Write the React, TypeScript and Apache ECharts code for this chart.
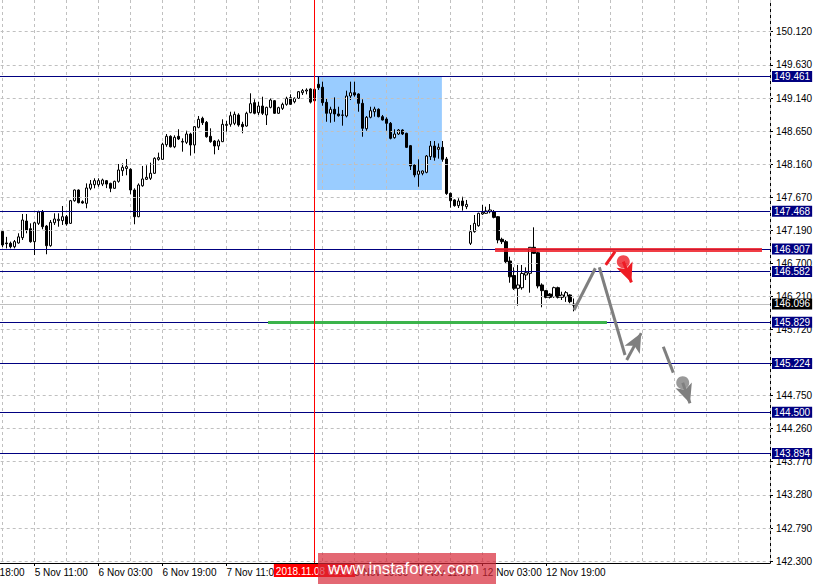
import React, { useEffect, useRef } from "react";
import * as echarts from "echarts";

// ---- Candles (H1 bars, index 0 = first visible bar) ----
const OPEN = [
  147.17, 147.0, 146.995, 146.945, 147.0, 147.078, 147.324, 147.211, 147.019, 147.29,
  147.457, 147.25, 146.96, 147.299, 147.33, 147.33, 147.388, 147.29, 147.624, 147.782,
  147.61, 147.585, 147.807, 147.86, 147.86, 147.87, 147.92, 147.88, 147.807, 147.91,
  148.067, 148.1, 148.088, 147.782, 147.388, 147.845, 147.94, 147.955, 148.029, 148.235,
  148.235, 148.451, 148.575, 148.42, 148.575, 148.49, 148.486, 148.609, 148.447, 148.708,
  148.841, 148.782, 148.575, 148.506, 148.432, 148.496, 148.737, 148.752, 148.767, 148.89,
  148.752, 148.727, 148.924, 149.072, 148.924, 149.022, 148.89, 149.003, 149.101, 148.915,
  148.988, 149.047, 149.145, 149.086, 149.136, 149.219, 149.244, 149.274, 149.1, 149.343,
  149.3, 149.077, 148.915, 148.974, 148.905, 148.885, 148.875, 149.17, 149.219, 149.2,
  149.062, 148.687, 148.856, 148.938, 148.974, 148.865, 148.83, 148.767, 148.555, 148.609,
  148.668, 148.619, 148.437, 148.151, 148.014, 148.029, 148.043, 148.275, 148.432, 148.383,
  148.412, 148.24, 147.733, 147.635, 147.551, 147.62, 147.536, 146.995, 147.167, 147.255,
  147.428, 147.438, 147.462, 147.462, 147.388, 147.054, 147.019, 146.734, 146.52, 146.33,
  146.339, 146.527, 146.552, 146.936, 146.856, 146.38, 146.296, 146.246, 146.207, 146.34,
  146.197, 146.207, 146.232, 146.08,
];
const CLOSE = [
  146.97, 146.99, 146.945, 147.02, 147.09, 147.339, 147.192, 147.019, 147.299, 147.457,
  147.24, 146.96, 147.305, 147.354, 147.35, 147.388, 147.28, 147.624, 147.782, 147.595,
  147.59, 147.812, 147.87, 147.92, 147.92, 147.93, 147.87, 147.807, 147.91, 148.078,
  148.117, 148.127, 147.782, 147.388, 147.856, 147.945, 147.97, 148.029, 148.25, 148.26,
  148.457, 148.575, 148.42, 148.56, 148.535, 148.5, 148.609, 148.447, 148.717, 148.826,
  148.776, 148.569, 148.496, 148.432, 148.506, 148.752, 148.752, 148.879, 148.9, 148.742,
  148.717, 148.915, 149.057, 148.915, 149.022, 148.915, 149.003, 149.111, 148.915, 148.998,
  149.047, 149.136, 149.047, 149.136, 149.234, 149.249, 149.259, 149.08, 149.27, 149.293,
  149.072, 148.915, 148.974, 148.905, 148.879, 148.89, 149.17, 149.219, 149.185, 149.062,
  148.693, 148.856, 148.953, 148.978, 148.865, 148.816, 148.767, 148.545, 148.609, 148.668,
  148.609, 148.412, 148.137, 148.004, 148.063, 148.063, 148.284, 148.432, 148.265, 148.412,
  148.235, 147.73, 147.624, 147.551, 147.62, 147.551, 147.57, 147.167, 147.29, 147.438,
  147.452, 147.472, 147.487, 147.378, 147.044, 147.019, 146.724, 146.5, 146.33, 146.38,
  146.55, 146.561, 146.936, 146.847, 146.365, 146.296, 146.197, 146.197, 146.34, 146.197,
  146.232, 146.266, 146.133, 146.096,
];
const LOW = [
  146.94, 146.92, 146.92, 146.92, 146.99, 147.044, 147.143, 147.004, 146.822, 147.266,
  147.202, 146.833, 146.945, 147.266, 147.24, 147.266, 147.255, 147.28, 147.61, 147.585,
  147.58, 147.512, 147.78, 147.807, 147.83, 147.84, 147.81, 147.75, 147.8, 147.89,
  147.99, 148.0, 147.72, 147.276, 147.38, 147.83, 147.93, 147.93, 148.02, 148.215,
  148.225, 148.42, 148.41, 148.4, 148.52, 148.348, 148.461, 148.29, 148.324, 148.693,
  148.742, 148.555, 148.48, 148.309, 148.373, 148.49, 148.643, 148.717, 148.74, 148.717,
  148.62, 148.717, 148.915, 148.9, 148.89, 148.89, 148.742, 148.988, 148.905, 148.905,
  148.964, 149.027, 149.037, 149.062, 149.126, 149.185, 149.195, 149.06, 149.09, 149.26,
  149.027, 148.79, 148.776, 148.79, 148.865, 148.732, 148.855, 149.111, 149.16, 148.938,
  148.569, 148.658, 148.841, 148.865, 148.855, 148.81, 148.658, 148.53, 148.54, 148.594,
  148.594, 148.402, 148.078, 147.97, 147.83, 148.0, 148.029, 148.225, 148.215, 148.245,
  148.2, 147.71, 147.521, 147.536, 147.516, 147.477, 147.5, 146.97, 147.152, 147.24,
  147.413, 147.428, 147.438, 147.364, 146.995, 146.984, 146.7, 146.413, 146.306, 146.074,
  146.31, 146.453, 146.266, 146.837, 146.33, 146.05, 146.183, 146.18, 146.19, 146.18,
  146.158, 146.13, 146.11, 145.99,
];
const HIGH = [
  147.18, 147.09, 147.02, 147.044, 147.143, 147.428, 147.428, 147.29, 147.314, 147.477,
  147.487, 147.266, 147.339, 147.438, 147.438, 147.546, 147.413, 147.635, 147.79, 147.79,
  147.63, 147.88, 147.93, 147.955, 147.955, 147.95, 147.93, 147.89, 147.92, 148.166,
  148.176, 148.24, 148.103, 147.807, 147.88, 148.137, 148.147, 148.186, 148.265, 148.334,
  148.48, 148.609, 148.59, 148.59, 148.679, 148.545, 148.658, 148.628, 148.727, 148.875,
  148.865, 148.801, 148.693, 148.52, 148.53, 148.826, 148.801, 148.938, 148.94, 148.915,
  148.79, 148.938, 149.21, 149.121, 149.086, 149.16, 149.012, 149.136, 149.111, 149.012,
  149.072, 149.16, 149.195, 149.15, 149.244, 149.274, 149.284, 149.284, 149.3, 149.46,
  149.382, 149.136, 149.012, 149.15, 149.012, 148.964, 149.249, 149.382, 149.382, 149.21,
  149.121, 148.875, 149.012, 149.012, 148.988, 148.89, 148.856, 148.786, 148.679, 148.683,
  148.679, 148.628, 148.447, 148.166, 148.235, 148.07, 148.299, 148.506, 148.506, 148.47,
  148.506, 148.27, 147.743, 147.645, 147.66, 147.683, 147.635, 147.266, 147.413, 147.447,
  147.561, 147.536, 147.575, 147.487, 147.398, 147.078, 147.044, 146.797, 146.64, 146.675,
  146.675, 146.64, 146.94, 147.231, 146.871, 146.404, 146.306, 146.26, 146.355, 146.355,
  146.28, 146.29, 146.242, 146.18,
];

// ---- Axes ----
const LEAD_BARS = 8; // time slots shown left of the first bar
const SLOT_COUNT = 201; // time slots on the x axis
const X_TICK_LABELS = [
  "2 Nov 18:00", "5 Nov 11:00", "6 Nov 03:00", "6 Nov 19:00", "7 Nov 11:00",
  "8 Nov 03:00", "8 Nov 19:00", "9 Nov 11:00", "12 Nov 03:00", "12 Nov 19:00",
];
const Y_TICKS = [
  150.12, 149.63, 149.14, 148.65, 148.16, 147.67, 147.19, 146.7, 146.21, 145.72,
  145.23, 144.75, 144.26, 143.77, 143.28, 142.79, 142.3,
];
const Y_MIN = 142.274;
const Y_MAX = 150.588;

// ---- Levels and drawings ----
const LEVELS = [149.461, 147.468, 146.907, 146.582, 145.829, 145.224, 144.5, 143.894];
const CURRENT_PRICE = 146.096;
const MARKER_BAR = 78;
const MARKER_TEXT = "2018.11.08 09:00";
const ZONE_BARS = [78.7, 109.9];
const ZONE_PRICES = [149.461, 147.782];
const RESIST_BARS = [123.2, 190.0];
const RESIST_PRICE = 146.907;
const SUPPORT_BARS = [66.4, 151.2];
const SUPPORT_PRICE = 145.829;
const GRAY_SEGMENTS = [
  [[142.96, 146.01], [148.3, 146.626]],
  [[149.29, 146.641], [155.72, 145.346]],
  [[165.3, 145.468], [167.8, 145.085]],
];
const GRAY_ARROWS = [
  [[156.14, 145.272], [159.78, 145.669]],
  [[170.16, 144.937], [171.98, 144.633]],
];
const GRAY_DOTS = [[170.16, 144.937]];
const RED_SEGMENTS = [[[150.89, 146.675], [153.22, 146.871]]];
const RED_ARROWS = [[[155.29, 146.724], [157.32, 146.418]]];
const RED_DOTS = [[155.29, 146.724]];

const FONT = "Liberation Sans";
const GRAY = "#7f7f7f";
const RED = "#ee1c24";
const NAVY = "#000080";

export default function App() {
  const ref = useRef<HTMLDivElement>(null);

  useEffect(() => {
    if (!ref.current) return;
    const chart = echarts.init(ref.current, null, { renderer: "svg" });

    const slots = Array.from({ length: SLOT_COUNT }, (_, i) => String(i));
    const candles = OPEN.map((o, k) => [k + LEAD_BARS, o, CLOSE[k], LOW[k], HIGH[k]]);

    const seg = (pair: number[][], color: string, arrow: boolean) => [
      { coord: pair[0], symbol: "none" },
      {
        coord: pair[1],
        symbol: arrow ? "arrow" : "none",
        symbolSize: [13, 19],
        lineStyle: { color, width: 3, type: "solid" },
        itemStyle: { color },
      },
    ];

    const levelLine = (v: number, bg: string, lineColor: string) => ({
      yAxis: v,
      lineStyle: { color: lineColor, width: 1, type: "solid" },
      label: {
        show: true,
        position: "end",
        formatter: v.toFixed(3),
        backgroundColor: bg,
        color: "#fff",
        fontFamily: FONT,
        fontSize: 10,
        padding: [1, 2, 0, 2],
        distance: 2,
      },
    });

    chart.setOption({
      animation: false,
      backgroundColor: "#ffffff",
      grid: {
        left: -29.3,
        right: 43,
        top: 0,
        bottom: 21,
        containLabel: false,
        outerBoundsMode: "none",
      },
      xAxis: [
        {
          type: "category",
          data: slots,
          boundaryGap: false,
          z: 2,
          axisLine: { lineStyle: { color: "#000", width: 1 } },
          axisTick: {
            length: 3,
            lineStyle: { color: "#000" },
            interval: (i: number) => i % 16 === 0 && i / 16 < X_TICK_LABELS.length,
          },
          axisLabel: {
            interval: (i: number) => i % 16 === 0 && i / 16 < X_TICK_LABELS.length,
            formatter: (_v: string, i: number) => X_TICK_LABELS[i / 16] ?? "",
            align: "left",
            margin: 4,
            color: "#000",
            fontFamily: FONT,
            fontSize: 10,
          },
          splitLine: {
            show: true,
            interval: (i: number) => i % 8 === 0,
            lineStyle: { color: "#c0c0c0", type: [3, 3], width: 1 },
          },
        },
        {
          type: "value",
          min: -LEAD_BARS,
          max: SLOT_COUNT - 1 - LEAD_BARS,
          show: false,
          splitLine: { show: false },
        },
      ],
      yAxis: {
        type: "value",
        position: "right",
        min: Y_MIN,
        max: Y_MAX,
        scale: true,
        axisLine: { show: true, onZero: false, lineStyle: { color: "#000", width: 1 } },
        axisTick: { show: true, length: 3, customValues: Y_TICKS, lineStyle: { color: "#000" } },
        axisLabel: {
          customValues: Y_TICKS,
          formatter: (v: number) => v.toFixed(3),
          margin: 6,
          color: "#000",
          fontFamily: FONT,
          fontSize: 10,
        },
        splitLine: { show: false },
      },
      series: [
        {
          name: "zone",
          type: "line",
          xAxisIndex: 1,
          data: [],
          z: 1,
          silent: true,
          markArea: {
            silent: true,
            itemStyle: { color: "#99ccff", opacity: 1 },
            data: [[{ coord: [ZONE_BARS[0], ZONE_PRICES[0]] }, { coord: [ZONE_BARS[1], ZONE_PRICES[1]] }]],
          },
        },
        {
          name: "grid",
          type: "line",
          xAxisIndex: 1,
          data: [],
          z: 2,
          silent: true,
          markLine: {
            silent: true,
            symbol: "none",
            label: { show: false },
            lineStyle: { color: "#c0c0c0", type: [3, 3], width: 1 },
            data: Y_TICKS.map((v) => ({ yAxis: v })),
          },
        },
        {
          name: "USDJPY",
          type: "candlestick",
          xAxisIndex: 0,
          z: 3,
          barWidth: 3,
          encode: { x: 0, y: [1, 2, 3, 4] },
          data: candles,
          itemStyle: {
            color: "#ffffff",
            color0: "#000000",
            borderColor: "#000000",
            borderColor0: "#000000",
            borderWidth: 1,
          },
        },
        {
          name: "levels",
          type: "line",
          xAxisIndex: 1,
          data: [],
          z: 4,
          silent: true,
          markLine: {
            silent: true,
            symbol: "none",
            data: [
              levelLine(CURRENT_PRICE, "#000", "#c0c0c0"),
              ...LEVELS.map((v) => levelLine(v, NAVY, NAVY)),
            ],
          },
        },
        {
          name: "drawings",
          type: "line",
          xAxisIndex: 1,
          data: [],
          z: 5,
          silent: true,
          markLine: {
            silent: true,
            symbol: "none",
            label: { show: false },
            data: [
              [
                { coord: [SUPPORT_BARS[0], SUPPORT_PRICE] },
                { coord: [SUPPORT_BARS[1], SUPPORT_PRICE], lineStyle: { color: "#3cb44b", width: 3, type: "solid" } },
              ],
              [
                { coord: [RESIST_BARS[0], RESIST_PRICE] },
                { coord: [RESIST_BARS[1], RESIST_PRICE], lineStyle: { color: "rgba(238,28,36,0.85)", width: 4, type: "solid" } },
              ],
              {
                xAxis: MARKER_BAR,
                lineStyle: { color: "#ff0000", width: 1, type: "solid" },
                label: {
                  show: true,
                  position: "start",
                  formatter: MARKER_TEXT,
                  backgroundColor: "#ff0000",
                  color: "#fff",
                  fontFamily: FONT,
                  fontSize: 10,
                  padding: [2, 2, 1, 2],
                  distance: 1,
                },
              },
              ...GRAY_SEGMENTS.map((p) => seg(p, GRAY, false)),
              ...GRAY_ARROWS.map((p) => seg(p, GRAY, true)),
              ...RED_SEGMENTS.map((p) => seg(p, RED, false)),
              ...RED_ARROWS.map((p) => seg(p, RED, true)),
            ],
          },
        },
        {
          name: "grayDots",
          type: "scatter",
          xAxisIndex: 1,
          z: 6,
          silent: true,
          symbolSize: 13,
          itemStyle: { color: GRAY },
          data: GRAY_DOTS,
        },
        {
          name: "redDots",
          type: "scatter",
          xAxisIndex: 1,
          z: 6,
          silent: true,
          symbolSize: 13,
          itemStyle: { color: RED },
          data: RED_DOTS,
        },
      ],
      graphic: [
        {
          type: "rect",
          z: 100,
          shape: { x: 318, y: 553, width: 178, height: 31 },
          style: { fill: "rgba(215,40,55,0.7)" },
        },
        {
          type: "text",
          z: 101,
          x: 328,
          y: 568,
          style: {
            text: "www.instaforex.com",
            fill: "#ffffff",
            font: `17px "${FONT}"`,
            verticalAlign: "middle",
          },
        },
      ],
    });

    return () => chart.dispose();
  }, []);

  return (
    <div
      ref={ref}
      style={{ position: "fixed", left: 0, top: 0, width: 813, height: 584, background: "#fff" }}
    />
  );
}
